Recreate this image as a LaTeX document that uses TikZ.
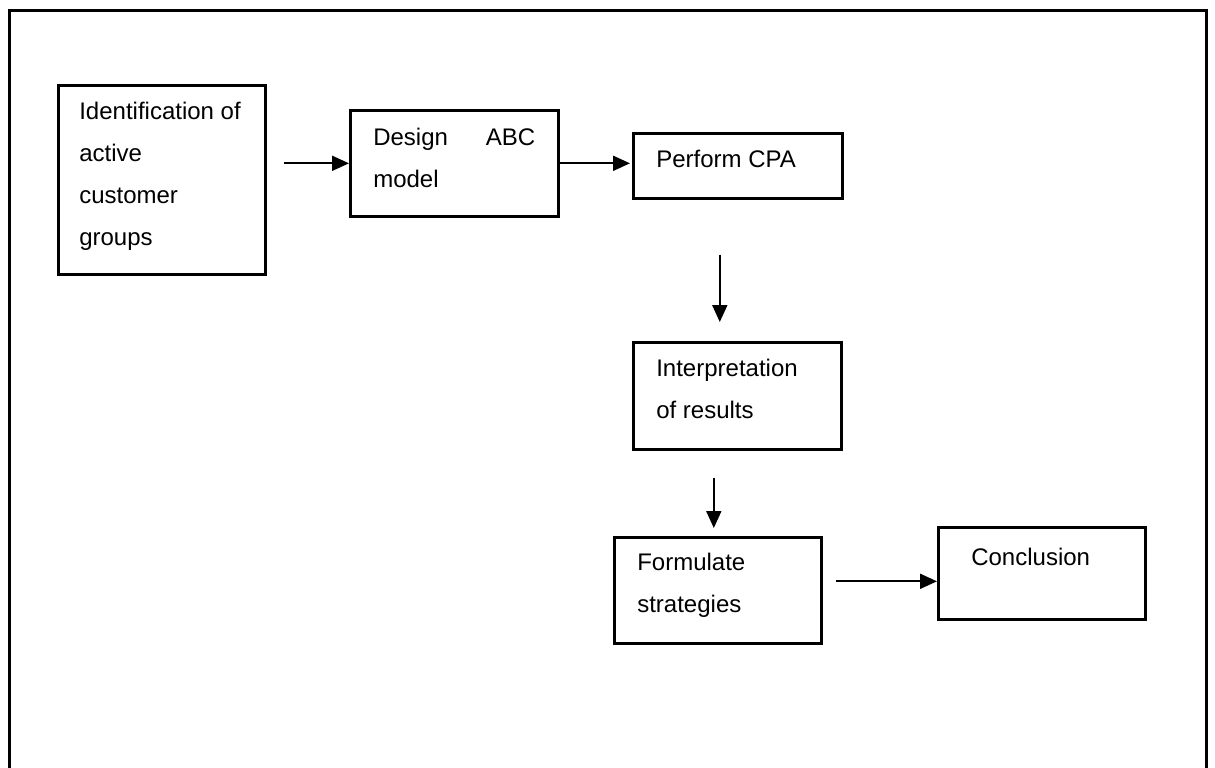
\documentclass[tikz,border=0pt]{standalone}
\usepackage{fontspec}
\setmainfont{Liberation Sans}
\usetikzlibrary{arrows.meta}
\newcommand{\celltext}[4]{\parbox[t][#1][t]{#2}{\rule{0pt}{#3}#4}}
\tikzset{
  procbox/.style={draw, line width=1.3pt, anchor=north west, inner ysep=0pt, inner xsep=#1, font=\fontsize{12}{21}\selectfont},
  flow/.style={-{Triangle[length=8.5pt,width=7.5pt]}, line width=1pt}
}
\begin{document}
\begin{tikzpicture}[x=0.5pt,y=-0.5pt]
        \useasboundingbox (0,0) rectangle (1215,767);
        \draw[line width=1.5pt] (9,10) rectangle (1206,800);
        % top row
        \node[procbox=10.5pt] (ident) at (57,84) {\celltext{94.5pt}{82.5pt}{17pt}{Identification of\\active\\customer\\groups}};
        \node[procbox=11.5pt] (design) at (349,109) {\celltext{53pt}{81pt}{17.5pt}{Design\hfill ABC\\model}};
        \node[procbox=11.5pt] (perf) at (632,132) {\celltext{32.5pt}{81.5pt}{17pt}{Perform CPA}};
        % middle
        \node[procbox=11.5pt] (interp) at (632,341) {\celltext{53.5pt}{81pt}{17pt}{Interpretation\\of results}};
        % bottom row
        \node[procbox=11.5pt] (form) at (613,536) {\celltext{53pt}{80.5pt}{16.5pt}{Formulate\\strategies}};
        \node[procbox=16.5pt] (concl) at (937,526) {\celltext{46pt}{70.5pt}{19pt}{Conclusion}};

        % arrows
        \draw[flow, shorten <=8.5pt] (ident.east |- design.west) -- (design.west);
        \draw[flow, shorten >=1pt] (design.east) -- (design.east -| perf.west);
        \draw[flow, shorten <=27.5pt, shorten >=9.5pt] ([xshift=-9pt]perf.south) -- ([xshift=-9pt]perf.south |- interp.north);
        \draw[flow, shorten <=13.5pt, shorten >=4pt] ([xshift=-2pt]form.north |- interp.south) -- ([xshift=-2pt]form.north);
        \coordinate (c5) at ([yshift=-4pt]concl.west);
        \draw[flow, shorten <=6.5pt] (form.east |- c5) -- (c5);
    \end{tikzpicture}
\end{document}
